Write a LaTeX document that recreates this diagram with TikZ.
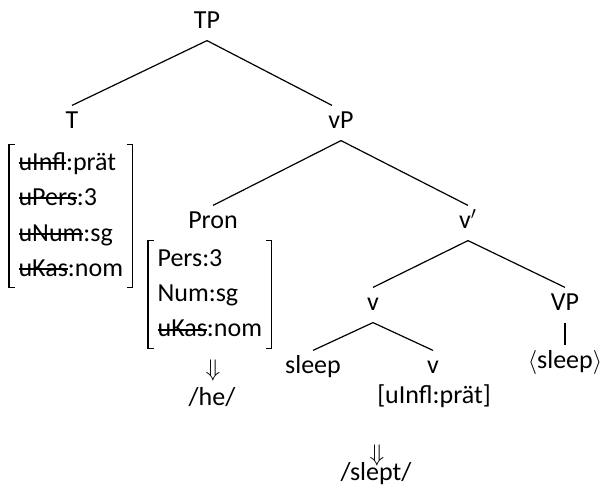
\documentclass[tikz,border=0pt]{standalone}
\usepackage{fontspec}
\setmainfont{Carlito}

\newcommand{\struck}[1]{\setbox0\hbox{#1}\rlap{\rule[0.25em]{\wd0}{1pt}}\box0}

\tikzset{
  tlabel/.style={font=\fontsize{13}{15}\selectfont, inner sep=2pt, text height=9pt, text depth=4pt, anchor=base},
  feats/.style={font=\fontsize{13}{17.75}\selectfont, inner xsep=4.5pt, inner ysep=0pt, anchor=base west},
  txt/.style={font=\fontsize{13}{15}\selectfont, inner sep=0pt}
}

\begin{document}
\begin{tikzpicture}[x=0.5pt,y=-0.5pt,line width=0.6pt]
      \useasboundingbox (0,0) rectangle (602,493);

      \node[tlabel] (TP) at (207,28) {TP};
      \node[tlabel] (T) at (72,128) {T};
      \node[tlabel] (vP) at (341,128) {vP};
      \node[tlabel] (Pron) at (213,228) {Pron};
      \node[tlabel] (vbar) at (468,228) {v$'$};
      \node[tlabel] (v) at (373,310) {v};
      \node[tlabel] (VP) at (565,310) {VP};
      \node[tlabel] (sleep) at (313,373) {sleep};
      \node[tlabel] (vlow) at (433,373) {v};
      \node[tlabel] (trace) at (565,368) {$\langle$sleep$\rangle$};

      \node[feats] (Tfeat) at (9,170) {\begin{tabular}[t]{@{}l@{}}
          \struck{uInfl}:prät\\ \struck{uPers}:3\\ \struck{uNum}:sg\\ \struck{uKas}:nom
        \end{tabular}};
      \node[feats] (Pronfeat) at (148,266) {\begin{tabular}[t]{@{}l@{}}
          Pers:3\\ Num:sg\\ \struck{uKas}:nom
        \end{tabular}};

      \node[txt] (heArrow) at (213,370) {$\Downarrow$};
      \node[txt, anchor=base] (he) at (212,405) {/he/};
      \node[txt, anchor=base] (infl) at (434,403) {[uInfl:prät]};
      \node[txt] (sleptArrow) at (377,455) {$\Downarrow$};
      \node[txt, anchor=base] (slept) at (376,480) {/slept/};

      \draw (TP.south) -- (T.north);
      \draw (TP.south) -- ([xshift=-4.5pt]vP.north);
      \draw (vP.south) -- (Pron.north);
      \draw (vP.south) -- (vbar.north);
      \draw (vbar.south) -- (v.north);
      \draw (vbar.south) -- (VP.north);
      \draw (v.south) -- (sleep.north);
      \draw (v.south) -- (vlow.north);
      \draw (VP.south) -- (trace.north);

      \foreach \f in {Tfeat,Pronfeat} {
        \draw ([xshift=3pt]\f.north west) -- (\f.north west) -- (\f.south west) -- ++(3pt,0);
        \draw ([xshift=-3pt]\f.north east) -- (\f.north east) -- (\f.south east) -- ++(-3pt,0);
      }
    \end{tikzpicture}
\end{document}
